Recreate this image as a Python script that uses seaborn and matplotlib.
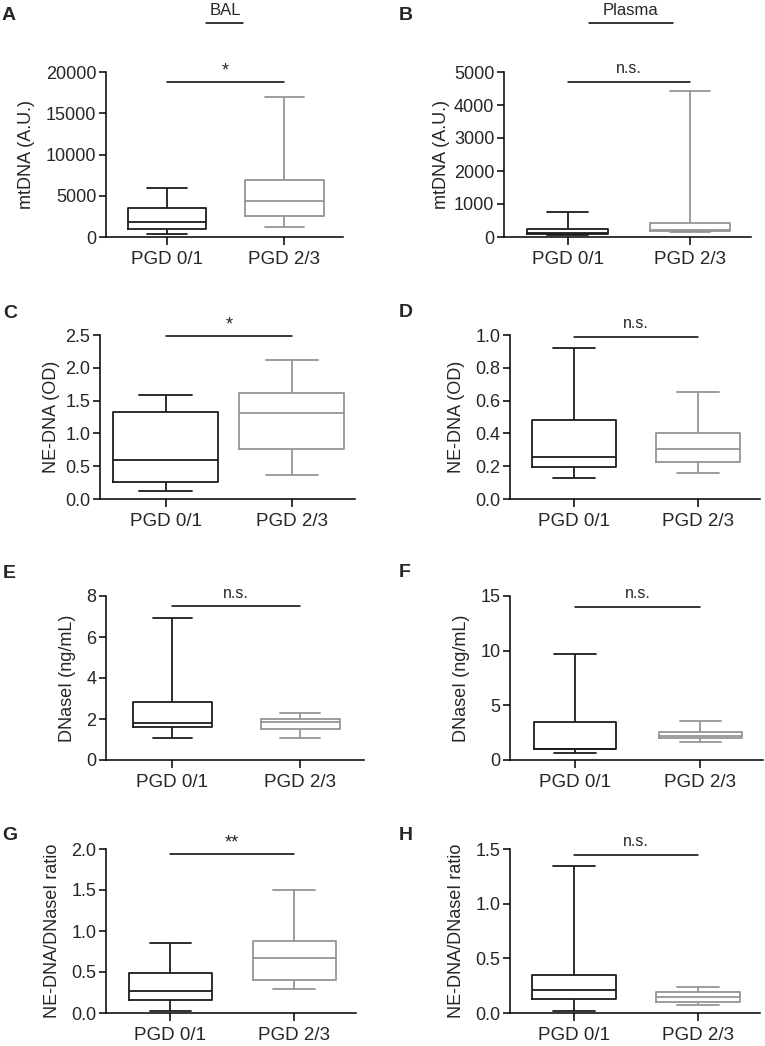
import numpy as np
import pandas as pd
import matplotlib
matplotlib.use("Agg")
import matplotlib.pyplot as plt
from matplotlib.lines import Line2D
import seaborn as sns

# ---------------- data (five-number summaries: min, Q1, median, Q3, max) ----------------
groups = ["PGD 0/1", "PGD 2/3"]

bal_mtdna_01 = [400, 970, 1780, 3560, 5940]
bal_mtdna_23 = [1250, 2590, 4360, 6950, 16970]
plasma_mtdna_01 = [50, 90, 110, 250, 770]
plasma_mtdna_23 = [140, 190, 200, 415, 4420]

bal_nedna_01 = [0.12, 0.26, 0.59, 1.32, 1.59]
bal_nedna_23 = [0.37, 0.76, 1.31, 1.61, 2.12]
plasma_nedna_01 = [0.126, 0.195, 0.254, 0.479, 0.919]
plasma_nedna_23 = [0.156, 0.225, 0.306, 0.402, 0.655]

bal_dnase_01 = [1.09, 1.61, 1.82, 2.84, 6.92]
bal_dnase_23 = [1.09, 1.53, 1.87, 2.00, 2.29]
plasma_dnase_01 = [0.67, 1.00, 1.05, 3.50, 9.74]
plasma_dnase_23 = [1.67, 2.01, 2.20, 2.56, 3.55]

bal_ratio_01 = [0.024, 0.158, 0.272, 0.483, 0.856]
bal_ratio_23 = [0.296, 0.400, 0.665, 0.872, 1.505]
plasma_ratio_01 = [0.018, 0.131, 0.210, 0.344, 1.345]
plasma_ratio_23 = [0.070, 0.100, 0.143, 0.192, 0.234]

panel_letters = ["A", "B", "C", "D", "E", "F", "G", "H"]
ylabels = ["mtDNA (A.U.)", "mtDNA (A.U.)", "NE-DNA (OD)", "NE-DNA (OD)",
           "DNaseI (ng/mL)", "DNaseI (ng/mL)", "NE-DNA/DNaseI ratio", "NE-DNA/DNaseI ratio"]
yticks = [[0, 5000, 10000, 15000, 20000], [0, 1000, 2000, 3000, 4000, 5000],
          [0.0, 0.5, 1.0, 1.5, 2.0, 2.5], [0.0, 0.2, 0.4, 0.6, 0.8, 1.0],
          [0, 2, 4, 6, 8], [0, 5, 10, 15],
          [0.0, 0.5, 1.0, 1.5, 2.0], [0.0, 0.5, 1.0, 1.5]]
ytick_fmt = ["{:.0f}", "{:.0f}", "{:.1f}", "{:.1f}", "{:.0f}", "{:.0f}", "{:.1f}", "{:.1f}"]
sig_text = ["*", "n.s.", "*", "n.s.", "n.s.", "n.s.", "**", "n.s."]
sig_y = [18800, 4700, 2.48, 0.988, 7.5, 14.0, 1.94, 1.445]
column_titles = ["BAL", "Plasma"]

panel_data = [(bal_mtdna_01, bal_mtdna_23), (plasma_mtdna_01, plasma_mtdna_23),
              (bal_nedna_01, bal_nedna_23), (plasma_nedna_01, plasma_nedna_23),
              (bal_dnase_01, bal_dnase_23), (plasma_dnase_01, plasma_dnase_23),
              (bal_ratio_01, bal_ratio_23), (plasma_ratio_01, plasma_ratio_23)]

# ---------------- layout (pixels) ----------------
W, H = 765, 1046
# left, right, top, bottom of each axes in pixels
rects = [(106, 343, 72, 237), (504, 751, 72, 237),
         (100, 355, 335, 499), (510, 760, 335, 499),
         (106, 364, 596, 760), (510, 763, 596, 760),
         (106, 356, 849, 1013), (510, 760, 849, 1013)]
box_widths = [0.67, 0.66, 0.83, 0.68, 0.62, 0.66, 0.67, 0.68]
ylabel_right = [-71, -54, -40, -45, -30, -40, -45, -45]
letter_pos = [(2, 20), (399, 20), (3, 318), (399, 317), (3, 578), (399, 577), (2, 840), (399, 840)]

sns.set_theme(style="ticks")
plt.rcParams["font.family"] = ["Liberation Sans", "DejaVu Sans"]

fig = plt.figure(figsize=(W / 100, H / 100), dpi=100)
fig.patch.set_facecolor("white")

pal = {groups[0]: "#1c1c1c", groups[1]: "#959595"}

for i in range(8):
    l, r, t, b = rects[i]
    ax = fig.add_axes([l / W, 1 - b / H, (r - l) / W, (b - t) / H])
    d01, d23 = panel_data[i]
    df = pd.DataFrame({"group": [groups[0]] * len(d01) + [groups[1]] * len(d23),
                       "value": list(d01) + list(d23)})
    sns.boxplot(data=df, x="group", y="value", hue="group", palette=pal, fill=False,
                whis=(0, 100), width=box_widths[i], linewidth=1.3, legend=False,
                showfliers=False, ax=ax)
    ax.set_facecolor("white")
    ax.set_xlim(-0.52, 1.5)
    yt = yticks[i]
    ax.set_ylim(0, yt[-1])
    ax.set_yticks(yt)
    ax.set_yticklabels([ytick_fmt[i].format(v) for v in yt])
    ax.set_xticks([0, 1])
    ax.set_xticklabels(groups)
    ax.set_xlabel("")
    ax.set_ylabel(ylabels[i], fontsize=13)
    ax.yaxis.set_label_coords(ylabel_right[i] / (r - l), 0.5)
    for s in ["top", "right"]:
        ax.spines[s].set_visible(False)
    for s in ["left", "bottom"]:
        ax.spines[s].set_linewidth(1.1)
        ax.spines[s].set_color("black")
    ax.tick_params(axis="y", length=5, width=1.1, labelsize=13, pad=2, color="black")
    ax.tick_params(axis="x", length=6, width=1.1, labelsize=13.5, pad=4, color="black")
    # significance bar
    ax.plot([0, 1], [sig_y[i], sig_y[i]], color="black", lw=1.1, clip_on=False)
    star = sig_text[i] != "n.s."
    ax.annotate(sig_text[i], xy=(0.5, sig_y[i]), xytext=(0, 2 if star else 4),
                textcoords="offset points", ha="center", va="bottom",
                fontsize=13 if star else 11.5, annotation_clip=False)
    lx, ly = letter_pos[i]
    fig.text(lx / W, 1 - ly / H, panel_letters[i], fontsize=14, fontweight="bold",
             ha="left", va="baseline")

# column headers with underline
for title, cx, x0, x1 in [(column_titles[0], 225, 206, 243), (column_titles[1], 630, 589, 673)]:
    fig.text(cx / W, 1 - 15 / H, title, fontsize=12, ha="center", va="baseline")
    fig.add_artist(Line2D([x0 / W, x1 / W], [1 - 23 / H, 1 - 23 / H], color="black", lw=1.1,
                          transform=fig.transFigure))

fig.savefig("out.png", dpi=100, facecolor="white")
